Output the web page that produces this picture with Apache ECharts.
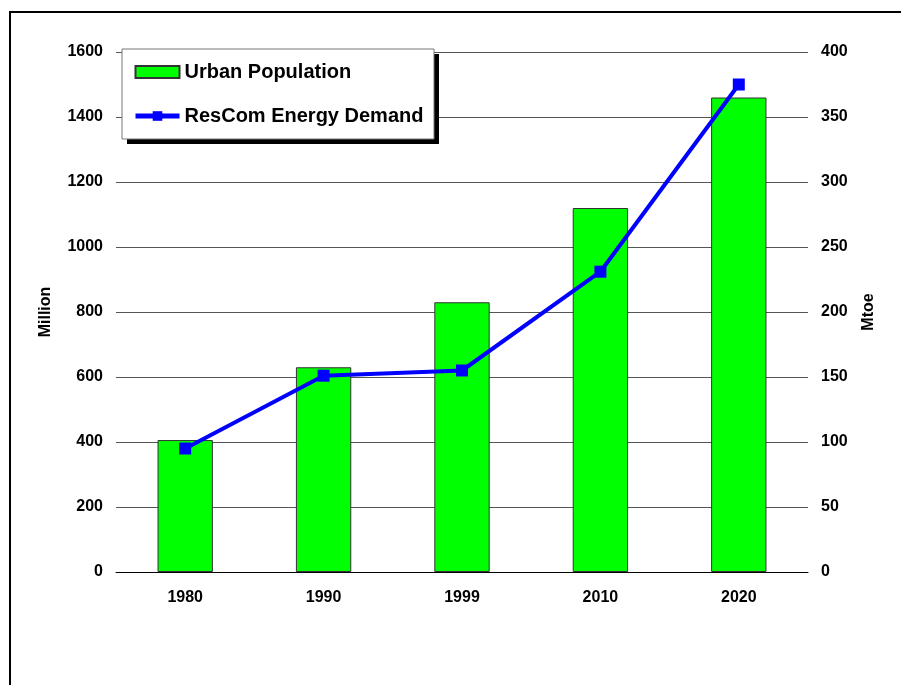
<!DOCTYPE html>
<html>
<head>
<meta charset="utf-8">
<script src="https://cdn.jsdelivr.net/npm/echarts@6.0.0/dist/echarts.min.js"></script>
<style>
  html, body { margin: 0; padding: 0; background: #fff; }
  #chart { width: 901px; height: 685px; }
</style>
</head>
<body>
<div id="chart"></div>
<script>
// data
const years = ['1980', '1990', '1999', '2010', '2020'];
const urbanPopulation = [406, 630, 830, 1120, 1460];   // Million
const energyDemand = [95, 151, 155, 231, 375];         // Mtoe

const labelFont = {
    fontFamily: 'Liberation Sans, Arial, sans-serif',
    fontWeight: 'bold',
    fontSize: 16,
    color: '#000'
};

const chart = echarts.init(document.getElementById('chart'));

chart.setOption({
    animation: false,
    backgroundColor: '#fff',
    graphic: [
        {
            // outer frame
            type: 'rect',
            shape: { x: 10, y: 12, width: 900, height: 700 },
            style: { fill: 'none', stroke: '#000', lineWidth: 2 },
            silent: true
        },
        {
            // legend box shadow
            type: 'rect',
            z: 3,
            shape: { x: 127, y: 54, width: 312, height: 90 },
            style: { fill: '#000' },
            silent: true
        },
        {
            // legend box
            type: 'rect',
            z: 3,
            shape: { x: 122, y: 49, width: 312, height: 90 },
            style: { fill: '#fff', stroke: '#777', lineWidth: 1 },
            silent: true
        }
    ],
    grid: { left: 116, right: 93, top: 52, bottom: 113 },
    legend: {
        orient: 'vertical',
        left: 133,
        top: 62,
        padding: 0,
        itemGap: 24,
        itemWidth: 44,
        itemHeight: 12,
        z: 5,
        textStyle: {
            fontFamily: 'Liberation Sans, Arial, sans-serif',
            fontWeight: 'bold',
            fontSize: 20,
            color: '#000'
        },
        data: [
            { name: 'Urban Population', icon: 'rect' },
            { name: 'ResCom Energy Demand', lineStyle: { width: 5 } }
        ]
    },
    xAxis: {
        type: 'category',
        data: years,
        axisLine: { lineStyle: { color: '#000', width: 1 } },
        axisTick: { inside: true, length: 4, lineStyle: { color: '#000' } },
        axisLabel: Object.assign({ margin: 18 }, labelFont)
    },
    yAxis: [
        {
            type: 'value',
            name: 'Million',
            nameLocation: 'middle',
            nameGap: 62,
            nameRotate: 90,
            nameTextStyle: labelFont,
            min: 0,
            max: 1600,
            interval: 200,
            axisLine: { show: false },
            axisTick: { show: false },
            splitLine: { lineStyle: { color: '#555', width: 1 } },
            axisLabel: Object.assign({ margin: 13, formatter: v => String(v) }, labelFont)
        },
        {
            type: 'value',
            name: 'Mtoe',
            nameLocation: 'middle',
            nameGap: 53,
            nameRotate: 90,
            nameTextStyle: labelFont,
            min: 0,
            max: 400,
            interval: 50,
            axisLine: { show: false },
            axisTick: { show: false },
            splitLine: { show: false },
            axisLabel: Object.assign({ margin: 13, formatter: v => String(v) }, labelFont)
        }
    ],
    series: [
        {
            name: 'Urban Population',
            type: 'bar',
            yAxisIndex: 0,
            data: urbanPopulation,
            barWidth: '40%',
            itemStyle: { color: '#00ff00', borderColor: '#333', borderWidth: 1 }
        },
        {
            name: 'ResCom Energy Demand',
            type: 'line',
            yAxisIndex: 1,
            data: energyDemand,
            symbol: 'rect',
            symbolSize: 12,
            lineStyle: { color: '#0000ff', width: 4 },
            itemStyle: { color: '#0000ff' }
        }
    ]
});
</script>
</body>
</html>
